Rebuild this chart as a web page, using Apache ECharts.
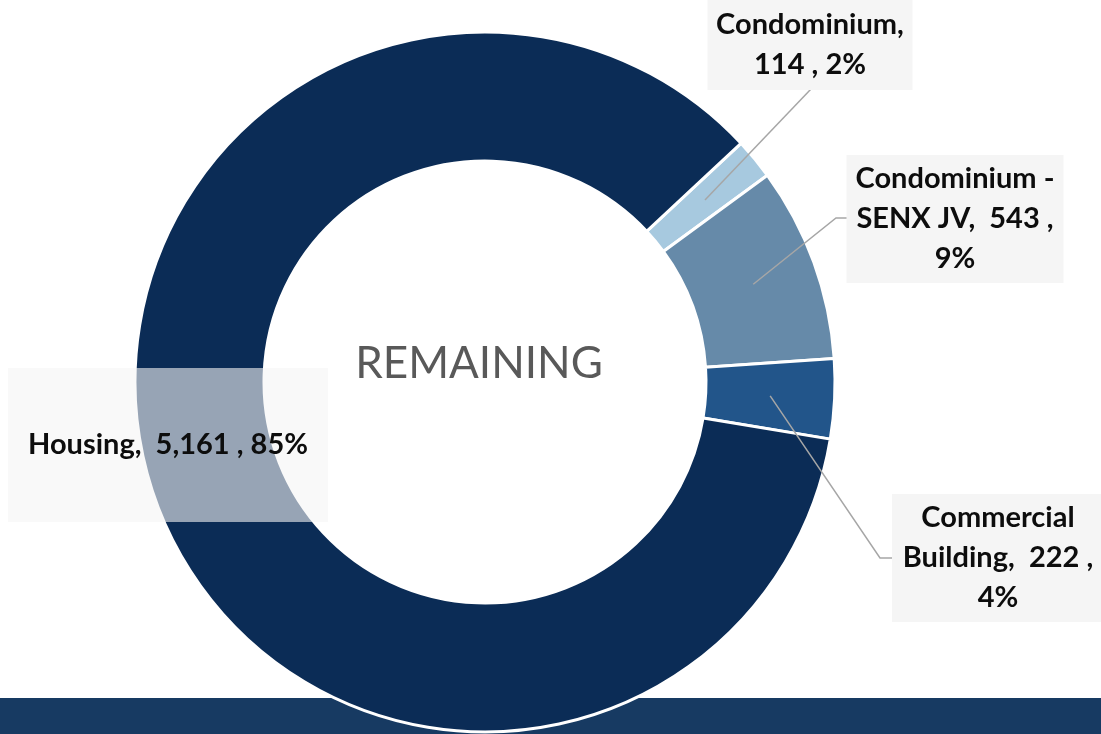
<!DOCTYPE html>
<html>
<head>
<meta charset="utf-8">
<script src="https://cdn.jsdelivr.net/npm/echarts@6/dist/echarts.min.js"></script>
<style>
  html, body { margin: 0; padding: 0; background: #fff; }
  #chart { width: 1101px; height: 734px; }
</style>
</head>
<body>
<div id="chart"></div>
<script>
// data
const categories = ['Condominium', 'Condominium - SENX JV', 'Commercial Building', 'Housing']
const values = [114, 543, 222, 5161]
const colors = ['#a7c9df', '#668aa9', '#22558a', '#0b2c56']

// layout of the label boxes (center x, center y, box width, vertical padding)
const boxCenter = [[810, 45], [955, 219], [998, 558], [168, 445]]
const boxWidth = [205, 217, 212, 320]
const boxPadV = [5, 4, 4, 57]
const lineBend = [[811, 89], [836, 218], [880, 558], null]
const lineEnd = [[811, 89], [847, 218], [892, 558], null]

const center = [485, 382]
const radius = [221, 350]
const startAngle = 43

const total = values.reduce((a, b) => a + b, 0)
const pct = values.map(v => Math.round(v / total * 100))

function labelText(i) {
  const n = categories[i]
  const v = values[i].toLocaleString('en-US')
  const p = pct[i]
  if (i === 0) return n + ',\n' + v + ' , ' + p + '%'
  if (i === 1) return n.replace(' - ', ' -\n') + ',  ' + v + ' ,\n' + p + '%'
  if (i === 2) return n.replace(' ', '\n') + ',  ' + v + ' ,\n' + p + '%'
  return n + ',  ' + v + ' , ' + p + '%'
}

// start point of a leader line: middle of the ring at the slice's mid angle
function sliceMid(i) {
  let before = 0
  for (let k = 0; k < i; k++) before += values[k]
  const mid = startAngle - (before + values[i] / 2) / total * 360
  const r = (radius[0] + radius[1]) / 2
  const a = mid * Math.PI / 180
  return [center[0] + r * Math.cos(a), center[1] - r * Math.sin(a)]
}

const myChart = echarts.init(document.getElementById('chart'))

const pieBase = {
  type: 'pie',
  center: center,
  radius: radius,
  startAngle: startAngle,
  clockwise: true,
  avoidLabelOverlap: false,
  emphasis: { disabled: true }
}

const option = {
  backgroundColor: '#fff',
  animation: false,
  graphic: [
    {
      type: 'rect',
      z: -10,
      shape: { x: 0, y: 698, width: 1101, height: 36 },
      style: { fill: '#173a62' }
    },
    {
      type: 'text',
      z: 10,
      x: 479,
      y: 364,
      style: {
        text: 'REMAINING',
        fill: '#595959',
        font: '44px Lato',
        textAlign: 'center',
        textVerticalAlign: 'middle'
      }
    }
  ],
  series: [
    // the ring itself
    Object.assign({}, pieBase, {
      z: 2,
      itemStyle: { borderColor: '#fff', borderWidth: 3 },
      label: { show: false },
      labelLine: { show: false },
      data: categories.map((name, i) => ({
        name: name,
        value: values[i],
        itemStyle: { color: colors[i] }
      }))
    }),
    // same slices, invisible, only to draw labels and leader lines above the ring
    Object.assign({}, pieBase, {
      z: 4,
      silent: true,
      itemStyle: { color: 'rgba(0,0,0,0)', borderWidth: 0 },
      label: {
        show: true,
        position: 'outside',
        color: '#0d0d0d',
        fontFamily: 'Lato',
        fontWeight: 'bold',
        fontSize: 29,
        lineHeight: 40,
        align: 'center',
        formatter: p => labelText(p.dataIndex)
      },
      labelLine: {
        show: true,
        showAbove: true,
        lineStyle: { color: '#a6a6a6', width: 1.5 }
      },
      labelLayout: function (params) {
        const i = params.dataIndex
        const res = {
          x: boxCenter[i][0],
          y: boxCenter[i][1],
          align: 'center',
          verticalAlign: 'middle'
        }
        if (lineBend[i]) {
          res.labelLinePoints = [sliceMid(i), lineBend[i], lineEnd[i]]
        }
        return res
      },
      data: categories.map((name, i) => ({
        name: name,
        value: values[i],
        label: {
          width: boxWidth[i],
          padding: [boxPadV[i], 0],
          backgroundColor: i === 3 ? 'rgba(245,245,245,0.6)' : '#f5f5f5'
        },
        labelLine: { show: i !== 3 }
      }))
    })
  ]
}

option && myChart.setOption(option)
</script>
</body>
</html>
